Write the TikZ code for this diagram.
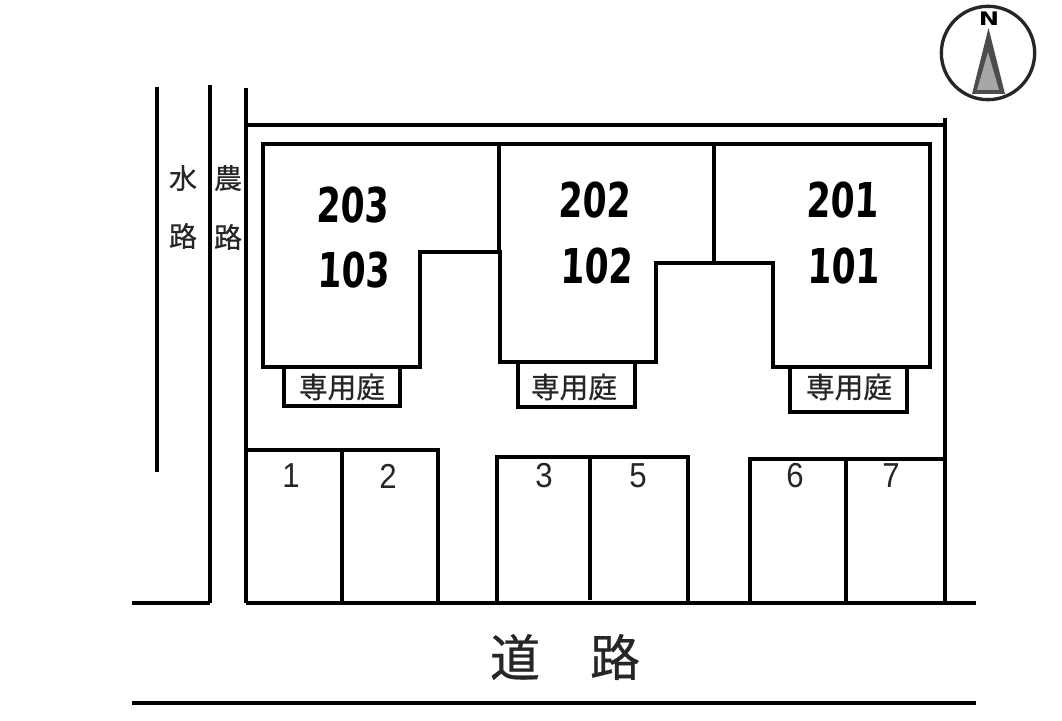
\documentclass[tikz,border=0pt]{standalone}
\usepackage{fontspec}
\setmainfont{Noto Sans CJK JP}
\newfontfamily\labelfont[FakeBold=0.6]{Noto Sans CJK JP}
\newfontfamily\roomfont{DejaVu Sans}
\newfontfamily\numfont{Liberation Sans}
\tikzset{
  wall/.style={draw=black, line width=2.5pt, line join=miter},
  lbl/.style={inner sep=0pt, text=black!85},
  roomlbl/.style={inner sep=0pt, font=\roomfont\bfseries\fontsize{36pt}{36pt}\selectfont, xscale=0.72, xslant=0.05},
  parklbl/.style={lbl, font=\numfont\fontsize{26pt}{26pt}\selectfont, xscale=0.9},
  gardenlbl/.style={lbl, font=\labelfont\fontsize{21.5pt}{21.5pt}\selectfont},
  sidelbl/.style={lbl, font=\labelfont\fontsize{21pt}{21pt}\selectfont},
  roadlbl/.style={lbl, font=\labelfont\fontsize{37.5pt}{37.5pt}\selectfont},
}
\begin{document}
\begin{tikzpicture}[x=0.75pt, y=-0.75pt]
    \useasboundingbox (0,0) rectangle (1062,720);

    % side lines
    \draw[wall] (157,87) -- (157,472);
    \draw[wall] (210,85) -- (210,603);
    \draw[wall] (246,88) -- (246,603);
    \node[sidelbl] (suiA) at (183,178) {水};
    \node[sidelbl] (suiB) at (183,236) {路};
    \node[sidelbl] (noA) at (228,178) {農};
    \node[sidelbl] (noB) at (228,237) {路};

    % site
    \draw[wall] (246,125) -- (945,125);
    \draw[wall] (945,118) -- (945,603);

    % road
    \draw[wall] (132,603) -- (210,603);
    \draw[wall] (246,603) -- (976,603);
    \draw[wall] (132,703) -- (976,703);
    \node[roadlbl] (roadA) at (515,657) {道};
    \node[roadlbl] (roadB) at (615,657) {路};

    % building
    \draw[wall] (263,144) -- (930,144) -- (930,367) -- (773,367) -- (773,263) -- (656,263)
      -- (656,362) -- (500,362) -- (500,252) -- (420,252) -- (420,367) -- (263,367) -- cycle;
    \draw[wall] (499,144) -- (499,252);
    \draw[wall] (714,144) -- (714,263);

    % rooms
    \node[roomlbl] (rA) at (353,205) {203};
    \node[roomlbl] (rB) at (354,270) {103};
    \node[roomlbl] (rC) at (595,200) {202};
    \node[roomlbl] (rD) at (597,266) {102};
    \node[roomlbl] (rE) at (843,200) {201};
    \node[roomlbl] (rF) at (844,266) {101};

    % gardens
    \draw[wall] (284,367) rectangle (400,406);
    \draw[wall] (518,362) rectangle (635,407);
    \draw[wall] (790,367) rectangle (907,412);
    \node[gardenlbl] (gardenA) at (342,387) {専用庭};
    \node[gardenlbl] (gardenB) at (574,387) {専用庭};
    \node[gardenlbl] (gardenC) at (849,387) {専用庭};

    % parking
    \draw[wall] (246,450) -- (438,450) -- (438,603);
    \draw[wall] (342,450) -- (342,603);
    \draw[wall] (497,603) -- (497,457) -- (688,457) -- (688,603);
    \draw[wall] (590,457) -- (590,600);
    \draw[wall] (750,603) -- (750,459) -- (945,459);
    \draw[wall] (846,459) -- (846,603);
    \node[parklbl] (pA) at (291,476) {1};
    \node[parklbl] (pB) at (388,476) {2};
    \node[parklbl] (pC) at (544,476) {3};
    \node[parklbl] (pD) at (638,476) {5};
    \node[parklbl] (pE) at (795,476) {6};
    \node[parklbl] (pF) at (891,476) {7};

    % compass
    \draw[line width=2.5pt, draw=black!85] (988,53) circle (35pt);
    \fill[black!70] (988.5,28) -- (1005,94) -- (972,94) -- cycle;
    \fill[black!35] (988,52) -- (999,90) -- (977,90) -- cycle;
    \node[inner sep=0pt, font=\roomfont\bfseries\fontsize{14pt}{14pt}\selectfont, xscale=1.3] (north) at (989,19) {N};
\end{tikzpicture}
\end{document}
